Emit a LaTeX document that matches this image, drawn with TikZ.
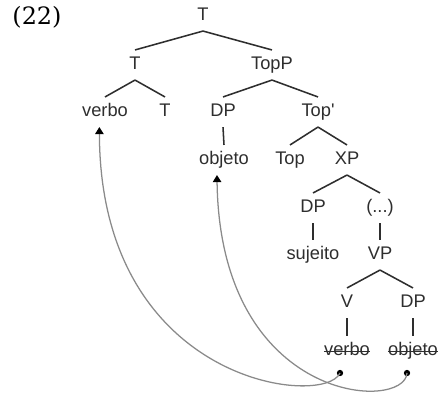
\documentclass[tikz,border=0pt]{standalone}
\usepackage{fontspec}
\setmainfont{Liberation Sans}
\newfontfamily\numfont{DejaVu Serif}
\usetikzlibrary{
    arrows.meta,
    calc
}
\definecolor{treegray}{HTML}{2E2E2E}
\definecolor{movegray}{HTML}{8A8A8A}
\tikzset{
  cat/.style={
    text=treegray,
    font=\fontsize{13}{15}\selectfont,
    text height=10pt,
    text depth=3pt,
    inner xsep=2pt,
    inner ysep=4pt
  },
  branch/.style={
    treegray,
    line width=1.1pt
  },
  strike/.style={
    treegray,
    line width=0.6pt
  },
  trace/.style={
    circle,
    fill=black,
    inner sep=0pt,
    minimum size=4.5pt
  },
  move/.style={
    movegray,
    line width=0.9pt,
    -{Triangle[width=6pt,length=5pt,color=black]}
  }
}

\begin{document}
\begin{tikzpicture}[x=0.025cm, y=-0.025cm]
    \useasboundingbox (0,0) rectangle (441,397);

    \node[font=\numfont\fontsize{17}{19}\selectfont] (num) at (37,17) {(22)};

    % 節点
    \node[cat] (r) at (203,16) {T};
    \node[cat] (t) at (135,65) {T};
    \node[cat] (topp) at (272,65) {TopP};
    \node[cat] (verbo) at (105,112) {verbo};
    \node[cat] (t2) at (165,112) {T};
    \node[cat] (dp) at (223,112) {DP};
    \node[cat] (topbar) at (318,112) {Top\textquotesingle};
    \node[cat] (objeto) at (224,160) {objeto};
    \node[cat] (top) at (290,160) {Top};
    \node[cat] (xp) at (347,160) {XP};
    \node[cat] (dp2) at (313,208) {DP};
    \node[cat] (etc) at (380,208) {(...)};
    \node[cat] (sujeito) at (313,255) {sujeito};
    \node[cat] (vp) at (380,255) {VP};
    \node[cat] (v) at (347,303) {V};
    \node[cat] (dp3) at (413,303) {DP};
    \node[cat] (verbo2) at (347,351) {verbo};
    \node[cat] (objeto2) at (413,351) {objeto};

    % 枝
    \draw[branch] (r.south) -- (t.north);
    \draw[branch] (r.south) -- (topp.north);
    \draw[branch] (t.south) -- (verbo.north);
    \draw[branch] (t.south) -- (t2.north);
    \draw[branch] (topp.south) -- (dp.north);
    \draw[branch] (topp.south) -- (topbar.north);
    \draw[branch] (dp.south) -- (objeto.north);
    \draw[branch] (topbar.south) -- (top.north);
    \draw[branch] (topbar.south) -- (xp.north);
    \draw[branch] (xp.south) -- (dp2.north);
    \draw[branch] (xp.south) -- (etc.north);
    \draw[branch] (dp2.south) -- (sujeito.north);
    \draw[branch] (etc.south) -- (vp.north);
    \draw[branch] (vp.south) -- (v.north);
    \draw[branch] (vp.south) -- (dp3.north);
    \draw[branch] (v.south) -- (verbo2.north);
    \draw[branch] (dp3.south) -- (objeto2.north);

    % 取り消し線
    \draw[strike] ([xshift=2pt]verbo2.west) -- ([xshift=-2pt]verbo2.east);
    \draw[strike] ([xshift=2pt]objeto2.west) -- ([xshift=-2pt]objeto2.east);

    % 痕跡と移動
    \node[trace] (tv) at (340,373) {};
    \node[trace] (to) at (407,373) {};
    \draw[move] (tv.center) .. controls (325,408) and (100,385) .. ([xshift=-4]verbo.south);
    \draw[move] (to.center) .. controls (405,412) and (220,405) .. ([xshift=-5]objeto.south);
\end{tikzpicture}
\end{document}
